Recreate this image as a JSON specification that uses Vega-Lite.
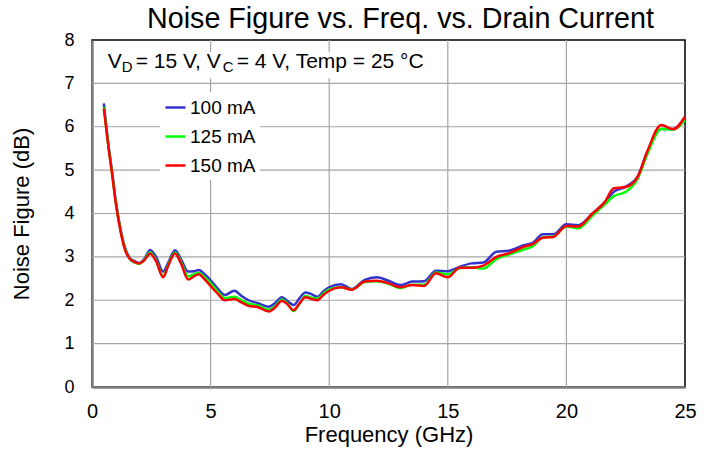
{
  "$schema": "https://vega.github.io/schema/vega-lite/v6.json",
  "autosize": "none",
  "width": 593,
  "height": 347,
  "padding": {"left": 92, "top": 40, "right": 30, "bottom": 64},
  "background": "white",
  "config": {
    "font": "Liberation Sans",
    "view": {"stroke": "#000000", "strokeWidth": 1.5},
    "axis": {"labelColor": "#000", "titleColor": "#000", "titleFontWeight": "normal"}
  },
  "title": {"text": "Noise Figure vs. Freq. vs. Drain Current", "fontSize": 28.7, "fontWeight": "normal", "font": "Liberation Sans", "color": "#000", "anchor": "middle", "dx": 12, "offset": -3},
  "datasets": {
    "gx": [{"g": 5}, {"g": 10}, {"g": 15}, {"g": 20}],
    "gy": [{"g": 1}, {"g": 2}, {"g": 3}, {"g": 4}, {"g": 5}, {"g": 6}, {"g": 7}],
    "nf": [
      {"f": 0.5, "nf": 6.54, "c": "100 mA"}, {"f": 0.7, "nf": 5.55, "c": "100 mA"}, {"f": 0.85, "nf": 4.95, "c": "100 mA"}, {"f": 1.0, "nf": 4.3, "c": "100 mA"}, {"f": 1.2, "nf": 3.65, "c": "100 mA"}, {"f": 1.4, "nf": 3.2, "c": "100 mA"}, {"f": 1.6, "nf": 2.97, "c": "100 mA"}, {"f": 1.8, "nf": 2.9, "c": "100 mA"}, {"f": 2.0, "nf": 2.86, "c": "100 mA"}, {"f": 2.2, "nf": 2.95, "c": "100 mA"}, {"f": 2.45, "nf": 3.16, "c": "100 mA"}, {"f": 2.7, "nf": 3.0, "c": "100 mA"}, {"f": 3.0, "nf": 2.66, "c": "100 mA"}, {"f": 3.2, "nf": 2.85, "c": "100 mA"}, {"f": 3.5, "nf": 3.15, "c": "100 mA"}, {"f": 3.75, "nf": 2.95, "c": "100 mA"}, {"f": 4.05, "nf": 2.66, "c": "100 mA"}, {"f": 4.3, "nf": 2.67, "c": "100 mA"}, {"f": 4.5, "nf": 2.7, "c": "100 mA"}, {"f": 4.75, "nf": 2.6, "c": "100 mA"}, {"f": 5.05, "nf": 2.43, "c": "100 mA"}, {"f": 5.3, "nf": 2.27, "c": "100 mA"}, {"f": 5.6, "nf": 2.12, "c": "100 mA"}, {"f": 6.0, "nf": 2.22, "c": "100 mA"}, {"f": 6.3, "nf": 2.1, "c": "100 mA"}, {"f": 6.6, "nf": 2.0, "c": "100 mA"}, {"f": 7.0, "nf": 1.93, "c": "100 mA"}, {"f": 7.45, "nf": 1.85, "c": "100 mA"}, {"f": 7.75, "nf": 1.95, "c": "100 mA"}, {"f": 8.0, "nf": 2.07, "c": "100 mA"}, {"f": 8.2, "nf": 2.0, "c": "100 mA"}, {"f": 8.5, "nf": 1.89, "c": "100 mA"}, {"f": 8.75, "nf": 2.05, "c": "100 mA"}, {"f": 9.0, "nf": 2.18, "c": "100 mA"}, {"f": 9.25, "nf": 2.14, "c": "100 mA"}, {"f": 9.5, "nf": 2.08, "c": "100 mA"}, {"f": 9.75, "nf": 2.2, "c": "100 mA"}, {"f": 10.0, "nf": 2.3, "c": "100 mA"}, {"f": 10.5, "nf": 2.37, "c": "100 mA"}, {"f": 10.95, "nf": 2.26, "c": "100 mA"}, {"f": 11.5, "nf": 2.47, "c": "100 mA"}, {"f": 12.0, "nf": 2.53, "c": "100 mA"}, {"f": 12.5, "nf": 2.45, "c": "100 mA"}, {"f": 13.0, "nf": 2.35, "c": "100 mA"}, {"f": 13.5, "nf": 2.43, "c": "100 mA"}, {"f": 14.0, "nf": 2.44, "c": "100 mA"}, {"f": 14.5, "nf": 2.68, "c": "100 mA"}, {"f": 15.0, "nf": 2.67, "c": "100 mA"}, {"f": 15.5, "nf": 2.77, "c": "100 mA"}, {"f": 16.0, "nf": 2.85, "c": "100 mA"}, {"f": 16.5, "nf": 2.87, "c": "100 mA"}, {"f": 17.05, "nf": 3.12, "c": "100 mA"}, {"f": 17.55, "nf": 3.14, "c": "100 mA"}, {"f": 18.2, "nf": 3.27, "c": "100 mA"}, {"f": 18.6, "nf": 3.33, "c": "100 mA"}, {"f": 19.0, "nf": 3.52, "c": "100 mA"}, {"f": 19.45, "nf": 3.52, "c": "100 mA"}, {"f": 20.0, "nf": 3.75, "c": "100 mA"}, {"f": 20.5, "nf": 3.73, "c": "100 mA"}, {"f": 21.1, "nf": 4.0, "c": "100 mA"}, {"f": 21.6, "nf": 4.25, "c": "100 mA"}, {"f": 22.0, "nf": 4.5, "c": "100 mA"}, {"f": 22.5, "nf": 4.62, "c": "100 mA"}, {"f": 23.0, "nf": 4.85, "c": "100 mA"}, {"f": 23.4, "nf": 5.4, "c": "100 mA"}, {"f": 24.0, "nf": 5.95, "c": "100 mA"}, {"f": 24.5, "nf": 5.95, "c": "100 mA"}, {"f": 25.0, "nf": 6.22, "c": "100 mA"},

      {"f": 0.5, "nf": 6.45, "c": "125 mA"}, {"f": 0.7, "nf": 5.52, "c": "125 mA"}, {"f": 0.85, "nf": 4.92, "c": "125 mA"}, {"f": 1.0, "nf": 4.27, "c": "125 mA"}, {"f": 1.2, "nf": 3.62, "c": "125 mA"}, {"f": 1.4, "nf": 3.17, "c": "125 mA"}, {"f": 1.6, "nf": 2.95, "c": "125 mA"}, {"f": 1.8, "nf": 2.87, "c": "125 mA"}, {"f": 2.0, "nf": 2.84, "c": "125 mA"}, {"f": 2.2, "nf": 2.93, "c": "125 mA"}, {"f": 2.45, "nf": 3.1, "c": "125 mA"}, {"f": 2.7, "nf": 2.92, "c": "125 mA"}, {"f": 3.0, "nf": 2.55, "c": "125 mA"}, {"f": 3.2, "nf": 2.8, "c": "125 mA"}, {"f": 3.5, "nf": 3.1, "c": "125 mA"}, {"f": 3.75, "nf": 2.88, "c": "125 mA"}, {"f": 4.05, "nf": 2.55, "c": "125 mA"}, {"f": 4.3, "nf": 2.6, "c": "125 mA"}, {"f": 4.5, "nf": 2.63, "c": "125 mA"}, {"f": 4.75, "nf": 2.53, "c": "125 mA"}, {"f": 5.05, "nf": 2.36, "c": "125 mA"}, {"f": 5.3, "nf": 2.2, "c": "125 mA"}, {"f": 5.6, "nf": 2.05, "c": "125 mA"}, {"f": 6.0, "nf": 2.08, "c": "125 mA"}, {"f": 6.3, "nf": 2.0, "c": "125 mA"}, {"f": 6.6, "nf": 1.92, "c": "125 mA"}, {"f": 7.0, "nf": 1.88, "c": "125 mA"}, {"f": 7.45, "nf": 1.78, "c": "125 mA"}, {"f": 7.75, "nf": 1.88, "c": "125 mA"}, {"f": 8.0, "nf": 2.02, "c": "125 mA"}, {"f": 8.2, "nf": 1.95, "c": "125 mA"}, {"f": 8.5, "nf": 1.75, "c": "125 mA"}, {"f": 8.75, "nf": 1.92, "c": "125 mA"}, {"f": 9.0, "nf": 2.1, "c": "125 mA"}, {"f": 9.25, "nf": 2.06, "c": "125 mA"}, {"f": 9.5, "nf": 2.04, "c": "125 mA"}, {"f": 9.75, "nf": 2.15, "c": "125 mA"}, {"f": 10.0, "nf": 2.25, "c": "125 mA"}, {"f": 10.5, "nf": 2.3, "c": "125 mA"}, {"f": 10.95, "nf": 2.25, "c": "125 mA"}, {"f": 11.5, "nf": 2.42, "c": "125 mA"}, {"f": 12.0, "nf": 2.44, "c": "125 mA"}, {"f": 12.5, "nf": 2.38, "c": "125 mA"}, {"f": 13.0, "nf": 2.28, "c": "125 mA"}, {"f": 13.5, "nf": 2.36, "c": "125 mA"}, {"f": 14.0, "nf": 2.36, "c": "125 mA"}, {"f": 14.5, "nf": 2.64, "c": "125 mA"}, {"f": 15.0, "nf": 2.6, "c": "125 mA"}, {"f": 15.5, "nf": 2.74, "c": "125 mA"}, {"f": 16.0, "nf": 2.76, "c": "125 mA"}, {"f": 16.5, "nf": 2.73, "c": "125 mA"}, {"f": 17.05, "nf": 2.95, "c": "125 mA"}, {"f": 17.55, "nf": 3.05, "c": "125 mA"}, {"f": 18.2, "nf": 3.17, "c": "125 mA"}, {"f": 18.6, "nf": 3.25, "c": "125 mA"}, {"f": 19.0, "nf": 3.45, "c": "125 mA"}, {"f": 19.45, "nf": 3.47, "c": "125 mA"}, {"f": 20.0, "nf": 3.7, "c": "125 mA"}, {"f": 20.5, "nf": 3.66, "c": "125 mA"}, {"f": 21.1, "nf": 3.95, "c": "125 mA"}, {"f": 21.6, "nf": 4.2, "c": "125 mA"}, {"f": 22.0, "nf": 4.4, "c": "125 mA"}, {"f": 22.5, "nf": 4.5, "c": "125 mA"}, {"f": 23.0, "nf": 4.8, "c": "125 mA"}, {"f": 23.4, "nf": 5.35, "c": "125 mA"}, {"f": 24.0, "nf": 5.95, "c": "125 mA"}, {"f": 24.5, "nf": 5.93, "c": "125 mA"}, {"f": 25.0, "nf": 6.15, "c": "125 mA"},

      {"f": 0.5, "nf": 6.42, "c": "150 mA"}, {"f": 0.7, "nf": 5.5, "c": "150 mA"}, {"f": 0.85, "nf": 4.9, "c": "150 mA"}, {"f": 1.0, "nf": 4.25, "c": "150 mA"}, {"f": 1.2, "nf": 3.6, "c": "150 mA"}, {"f": 1.4, "nf": 3.15, "c": "150 mA"}, {"f": 1.6, "nf": 2.95, "c": "150 mA"}, {"f": 1.8, "nf": 2.88, "c": "150 mA"}, {"f": 2.0, "nf": 2.85, "c": "150 mA"}, {"f": 2.2, "nf": 2.92, "c": "150 mA"}, {"f": 2.45, "nf": 3.07, "c": "150 mA"}, {"f": 2.7, "nf": 2.9, "c": "150 mA"}, {"f": 3.0, "nf": 2.53, "c": "150 mA"}, {"f": 3.2, "nf": 2.78, "c": "150 mA"}, {"f": 3.5, "nf": 3.08, "c": "150 mA"}, {"f": 3.75, "nf": 2.85, "c": "150 mA"}, {"f": 4.05, "nf": 2.48, "c": "150 mA"}, {"f": 4.3, "nf": 2.55, "c": "150 mA"}, {"f": 4.5, "nf": 2.6, "c": "150 mA"}, {"f": 4.75, "nf": 2.48, "c": "150 mA"}, {"f": 5.05, "nf": 2.3, "c": "150 mA"}, {"f": 5.3, "nf": 2.15, "c": "150 mA"}, {"f": 5.6, "nf": 2.0, "c": "150 mA"}, {"f": 6.0, "nf": 2.03, "c": "150 mA"}, {"f": 6.3, "nf": 1.95, "c": "150 mA"}, {"f": 6.6, "nf": 1.87, "c": "150 mA"}, {"f": 7.0, "nf": 1.84, "c": "150 mA"}, {"f": 7.45, "nf": 1.74, "c": "150 mA"}, {"f": 7.75, "nf": 1.85, "c": "150 mA"}, {"f": 8.0, "nf": 1.99, "c": "150 mA"}, {"f": 8.2, "nf": 1.93, "c": "150 mA"}, {"f": 8.5, "nf": 1.77, "c": "150 mA"}, {"f": 8.75, "nf": 1.93, "c": "150 mA"}, {"f": 9.0, "nf": 2.07, "c": "150 mA"}, {"f": 9.25, "nf": 2.03, "c": "150 mA"}, {"f": 9.5, "nf": 2.0, "c": "150 mA"}, {"f": 9.75, "nf": 2.12, "c": "150 mA"}, {"f": 10.0, "nf": 2.22, "c": "150 mA"}, {"f": 10.5, "nf": 2.3, "c": "150 mA"}, {"f": 10.95, "nf": 2.24, "c": "150 mA"}, {"f": 11.5, "nf": 2.43, "c": "150 mA"}, {"f": 12.0, "nf": 2.45, "c": "150 mA"}, {"f": 12.5, "nf": 2.39, "c": "150 mA"}, {"f": 13.0, "nf": 2.3, "c": "150 mA"}, {"f": 13.5, "nf": 2.35, "c": "150 mA"}, {"f": 14.0, "nf": 2.33, "c": "150 mA"}, {"f": 14.5, "nf": 2.62, "c": "150 mA"}, {"f": 15.0, "nf": 2.53, "c": "150 mA"}, {"f": 15.5, "nf": 2.75, "c": "150 mA"}, {"f": 16.0, "nf": 2.75, "c": "150 mA"}, {"f": 16.5, "nf": 2.8, "c": "150 mA"}, {"f": 17.05, "nf": 3.0, "c": "150 mA"}, {"f": 17.55, "nf": 3.08, "c": "150 mA"}, {"f": 18.2, "nf": 3.23, "c": "150 mA"}, {"f": 18.6, "nf": 3.3, "c": "150 mA"}, {"f": 19.0, "nf": 3.44, "c": "150 mA"}, {"f": 19.45, "nf": 3.46, "c": "150 mA"}, {"f": 20.0, "nf": 3.71, "c": "150 mA"}, {"f": 20.5, "nf": 3.7, "c": "150 mA"}, {"f": 21.1, "nf": 4.0, "c": "150 mA"}, {"f": 21.6, "nf": 4.25, "c": "150 mA"}, {"f": 22.0, "nf": 4.58, "c": "150 mA"}, {"f": 22.5, "nf": 4.61, "c": "150 mA"}, {"f": 23.0, "nf": 4.84, "c": "150 mA"}, {"f": 23.4, "nf": 5.42, "c": "150 mA"}, {"f": 24.0, "nf": 6.04, "c": "150 mA"}, {"f": 24.5, "nf": 5.94, "c": "150 mA"}, {"f": 25.0, "nf": 6.23, "c": "150 mA"}
    ]
  },
  "layer": [
    {
      "data": {"name": "gx"},
      "mark": {"type": "rule", "color": "#a6a6a6", "strokeWidth": 1.2},
      "encoding": {"x": {"field": "g", "type": "quantitative", "scale": {"domain": [0, 25], "nice": false}}}
    },
    {
      "data": {"name": "gy"},
      "mark": {"type": "rule", "color": "#a6a6a6", "strokeWidth": 1.2},
      "encoding": {"y": {"field": "g", "type": "quantitative", "scale": {"domain": [0, 8], "nice": false}}}
    },
    {
      "data": {"values": [{}]},
      "mark": {"type": "rect", "fill": "white", "stroke": null},
      "encoding": {
        "x": {"datum": 0.45, "type": "quantitative"},
        "x2": {"datum": 14.1},
        "y": {"datum": 7.12, "type": "quantitative"},
        "y2": {"datum": 7.72}
      }
    },
    {
      "data": {"name": "nf"},
      "mark": {"type": "line", "interpolate": "monotone", "strokeWidth": 2.5},
      "encoding": {
        "x": {
          "field": "f", "type": "quantitative",
          "scale": {"domain": [0, 25], "nice": false},
          "axis": {"grid": false, "values": [0, 5, 10, 15, 20, 25], "title": "Frequency (GHz)", "titleFontSize": 22, "titleFont": "Liberation Sans", "labelFontSize": 20, "labelFont": "Liberation Sans", "ticks": false, "tickSize": 0, "labelPadding": 14, "titlePadding": 3, "domainColor": "#7f7f7f", "domainWidth": 2.5, "labelFlush": false}
        },
        "y": {
          "field": "nf", "type": "quantitative",
          "scale": {"domain": [0, 8], "nice": false},
          "axis": {"grid": false, "values": [0, 1, 2, 3, 4, 5, 6, 7, 8], "title": "Noise Figure (dB)", "titleFontSize": 22, "titleFont": "Liberation Sans", "labelFontSize": 18, "labelFont": "Liberation Sans", "ticks": false, "tickSize": 0, "labelPadding": 18, "titlePadding": 30, "domainColor": "#7f7f7f", "domainWidth": 2.5, "labelFlush": false}
        },
        "color": {
          "field": "c", "type": "nominal",
          "scale": {"domain": ["100 mA", "125 mA", "150 mA"], "range": ["#3333CC", "#00FF00", "#FF0000"]},
          "legend": {"title": null, "orient": "none", "legendX": 68, "legendY": 52, "symbolType": "stroke", "symbolSize": 400, "symbolStrokeWidth": 2.5, "labelFontSize": 19, "labelFont": "Liberation Sans", "labelColor": "#000", "labelOffset": 3, "rowPadding": 7, "fillColor": "white", "padding": 4}
        }
      }
    },
    {
      "data": {"values": [{}]},
      "mark": {"type": "text", "text": "V", "fontSize": 21, "font": "Liberation Sans", "align": "left", "baseline": "alphabetic", "dx": 0},
      "encoding": {"x": {"datum": 0.66, "type": "quantitative"}, "y": {"datum": 7.35, "type": "quantitative"}}
    },
    {
      "data": {"values": [{}]},
      "mark": {"type": "text", "text": "D", "fontSize": 15, "font": "Liberation Sans", "align": "left", "baseline": "alphabetic", "dx": 14, "dy": 4},
      "encoding": {"x": {"datum": 0.66, "type": "quantitative"}, "y": {"datum": 7.35, "type": "quantitative"}}
    },
    {
      "data": {"values": [{}]},
      "mark": {"type": "text", "text": "= 15 V, V", "fontSize": 21, "font": "Liberation Sans", "align": "left", "baseline": "alphabetic", "dx": 28},
      "encoding": {"x": {"datum": 0.66, "type": "quantitative"}, "y": {"datum": 7.35, "type": "quantitative"}}
    },
    {
      "data": {"values": [{}]},
      "mark": {"type": "text", "text": "C", "fontSize": 15, "font": "Liberation Sans", "align": "left", "baseline": "alphabetic", "dx": 115, "dy": 4},
      "encoding": {"x": {"datum": 0.66, "type": "quantitative"}, "y": {"datum": 7.35, "type": "quantitative"}}
    },
    {
      "data": {"values": [{}]},
      "mark": {"type": "text", "text": "= 4 V, Temp = 25 °C", "fontSize": 21, "font": "Liberation Sans", "align": "left", "baseline": "alphabetic", "dx": 129},
      "encoding": {"x": {"datum": 0.66, "type": "quantitative"}, "y": {"datum": 7.35, "type": "quantitative"}}
    }
  ]
}
